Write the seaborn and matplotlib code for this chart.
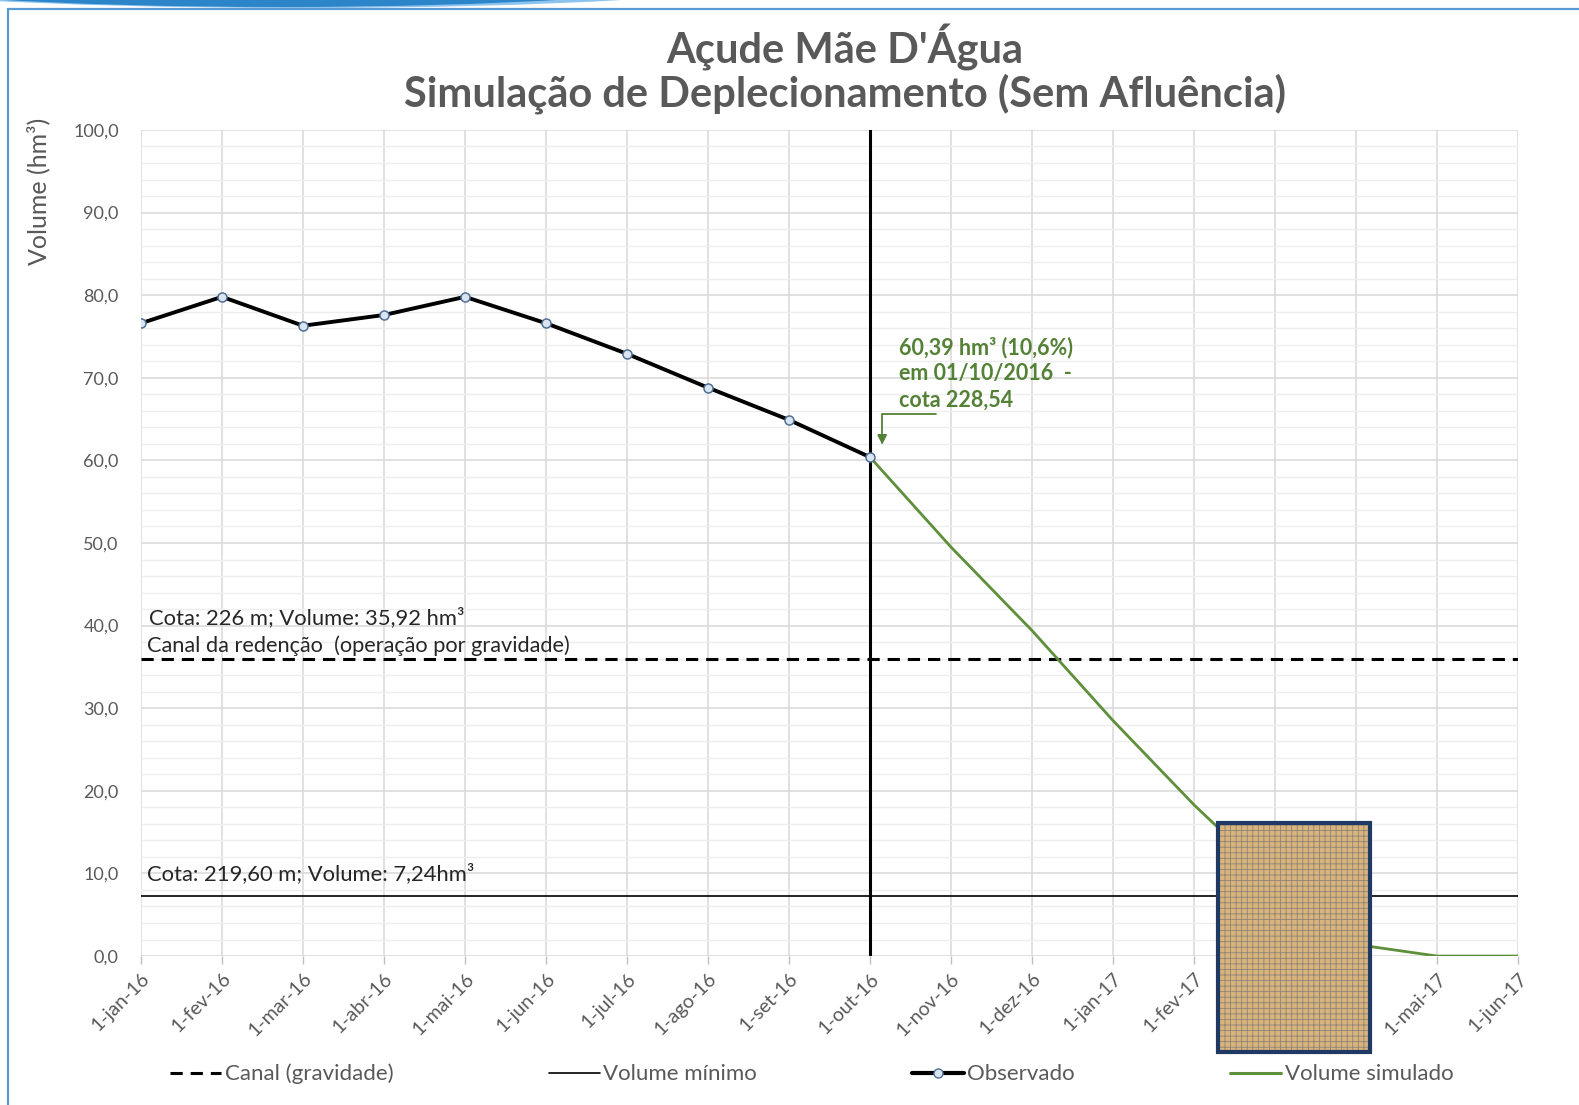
"""Açude Mãe D'Água - simulação de deplecionamento (sem afluência)."""
import matplotlib
matplotlib.use('Agg')
import matplotlib.pyplot as plt
from matplotlib.lines import Line2D
from matplotlib.patches import Ellipse, Rectangle
from matplotlib.ticker import FuncFormatter, MultipleLocator
import pandas as pd
import seaborn as sns

MONTHS = ['1-jan-16', '1-fev-16', '1-mar-16', '1-abr-16', '1-mai-16', '1-jun-16',
          '1-jul-16', '1-ago-16', '1-set-16', '1-out-16', '1-nov-16', '1-dez-16',
          '1-jan-17', '1-fev-17', '1-mar-17', '1-abr-17', '1-mai-17', '1-jun-17']
OBSERVED = [76.6, 79.8, 76.3, 77.6, 79.8, 76.6, 72.9, 68.8, 64.9, 60.39]
SIMULATED = [60.39, 49.5, 39.4, 28.5, 18.3, 9.0, 1.4, 0.0, 0.0]
SIM_START = 9          # simulation starts at 1-out-16
CANAL_LEVEL = 35.92
MIN_LEVEL = 7.24

GRAY = '#595959'
GREEN = '#5e8f3a'
TXT_GREEN = '#538135'

sns.set_theme(style='white')
plt.rcParams['font.family'] = ['Lato', 'DejaVu Sans']

obs = pd.DataFrame({'x': range(len(OBSERVED)), 'vol': OBSERVED})
sim = pd.DataFrame({'x': range(SIM_START, SIM_START + len(SIMULATED)), 'vol': SIMULATED})

fig = plt.figure(figsize=(15.79, 11.05), dpi=100)
ax = fig.add_axes([0.0893, 0.1348, 0.8721, 0.7476])

# grid
ax.set_xlim(0, len(MONTHS) - 1)
ax.set_ylim(0, 100)
ax.yaxis.set_major_locator(MultipleLocator(10))
ax.yaxis.set_minor_locator(MultipleLocator(2))
ax.set_xticks(range(len(MONTHS)))
ax.set_xticklabels(MONTHS, rotation=45, ha='right', rotation_mode='anchor')
ax.yaxis.set_major_formatter(FuncFormatter(lambda v, p: f'{v:.1f}'.replace('.', ',')))
ax.grid(which='major', color='#d9d9d9', lw=1.1)
ax.grid(which='minor', axis='y', color='#eeeeee', lw=1.0)
ax.set_axisbelow(True)
for s in ax.spines.values():
    s.set_visible(False)
ax.tick_params(axis='x', colors='#bfbfbf', labelcolor=GRAY, labelsize=14,
               length=6, width=1, direction='out', pad=4, bottom=True)
ax.tick_params(axis='y', labelcolor=GRAY, labelsize=13, length=0, pad=16)

# reference lines
ax.axhline(CANAL_LEVEL, color='black', lw=2.2, ls=(0, (4, 2.6)))
ax.axhline(MIN_LEVEL, color='black', lw=1.2)
ax.axvline(SIM_START, color='black', lw=2.2)

sns.lineplot(data=sim, x='x', y='vol', ax=ax, color=GREEN, lw=2.0)
sns.lineplot(data=obs, x='x', y='vol', ax=ax, color='black', lw=2.8,
             marker='o', markersize=6.5, markerfacecolor='#dbe5f1',
             markeredgecolor='#4f6f96', markeredgewidth=1.1)

ax.set_xlabel('')
ax.set_ylabel('Volume (hm³)', color=GRAY, fontsize=18)
ax.yaxis.set_label_coords(-0.066, 0.926)

# texts on the chart
ax.text(0.1, 41.0, 'Cota: 226 m; Volume: 35,92 hm³', fontsize=15.8, color='#262626', va='center')
ax.text(0.08, 37.6, 'Canal da redenção  (operação por gravidade)', fontsize=15.7, color='#262626', va='center')
ax.text(0.07, 10.0, 'Cota: 219,60 m; Volume: 7,24hm³', fontsize=15.8, color='#262626', va='center')
ax.text(9.36, 75.0, '60,39 hm³ (10,6%)\nem 01/10/2016  -\ncota 228,54', fontsize=15.5,
        fontweight='bold', color=TXT_GREEN, va='top', linespacing=1.3)
ax.annotate('', xy=(9.15, 61.9), xytext=(9.82, 65.6),
            arrowprops=dict(arrowstyle='-|>', color=TXT_GREEN, lw=1.3, mutation_scale=14,
                            shrinkA=0, shrinkB=0,
                            connectionstyle='angle,angleA=180,angleB=90,rad=0'))

# title
fig.text(0.535, 0.957, "Açude Mãe D'Água", ha='center', va='center',
         fontsize=30, fontweight='bold', color=GRAY)
fig.text(0.535, 0.915, 'Simulação de Deplecionamento (Sem Afluência)', ha='center', va='center',
         fontsize=30, fontweight='bold', color=GRAY)

# legend
handles = [
    Line2D([], [], color='black', lw=2.2, ls=(0, (4, 2.6))),
    Line2D([], [], color='black', lw=1.2),
    Line2D([], [], color='black', lw=3, marker='o', markersize=6.5,
           markerfacecolor='#dbe5f1', markeredgecolor='#4f6f96'),
    Line2D([], [], color=GREEN, lw=2.2),
]
labels = ['Canal (gravidade)', 'Volume mínimo', 'Observado', 'Volume simulado']
leg = fig.legend(handles, labels, loc='center', bbox_to_anchor=(0.514, 0.028), ncol=4,
                 frameon=False, fontsize=16, handlelength=2.3, handletextpad=0.15,
                 columnspacing=7.0)
for t in leg.get_texts():
    t.set_color(GRAY)

# decorations: frame, banner and the textured box over the chart
fig.add_artist(Line2D([8 / 1579, 8 / 1579], [0, 1 - 9 / 1105], transform=fig.transFigure,
                      color='#5b9bd5', lw=1.6))
fig.add_artist(Line2D([8 / 1579, 1], [1 - 9 / 1105, 1 - 9 / 1105], transform=fig.transFigure,
                      color='#5b9bd5', lw=1.6))
fig.add_artist(Ellipse((300 / 1579, 1 + 20 / 1105), 920 / 1579, 56 / 1105,
                       transform=fig.transFigure, color='#8cc4ee', lw=0))
fig.add_artist(Ellipse((280 / 1579, 1 + 20 / 1105), 820 / 1579, 54 / 1105,
                       transform=fig.transFigure, color='#2c85c8', lw=0))
plt.rcParams['hatch.linewidth'] = 0.6
fig.add_artist(Rectangle((1218 / 1579, 1 - 1052 / 1105), 152 / 1579, 229 / 1105,
                         transform=fig.transFigure, facecolor='#d8b47c',
                         edgecolor='#8e8478', hatch='+++', lw=0, zorder=10))
fig.add_artist(Rectangle((1218 / 1579, 1 - 1052 / 1105), 152 / 1579, 229 / 1105,
                         transform=fig.transFigure, facecolor='none',
                         edgecolor='#1f3864', lw=3, zorder=11))

fig.savefig('out.png', dpi=100)
